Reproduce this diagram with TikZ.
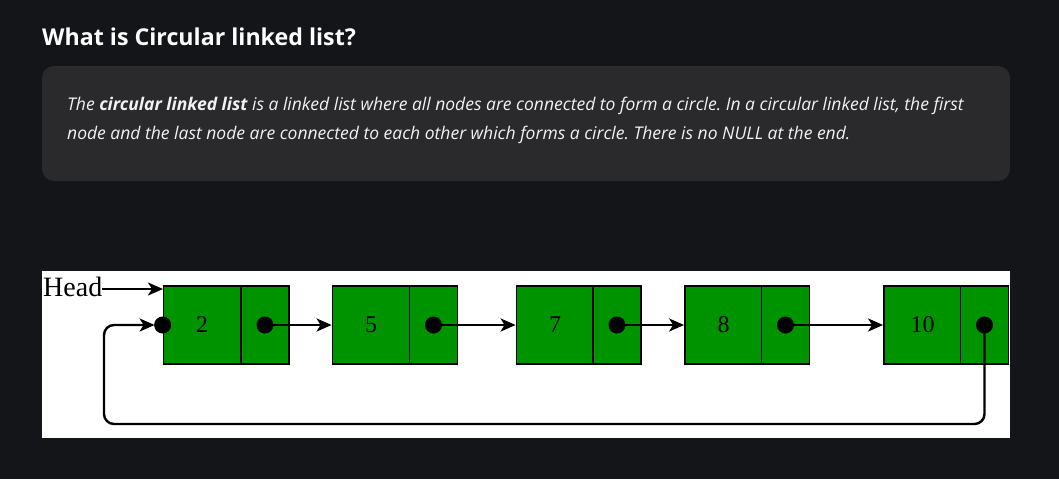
\documentclass[tikz,border=0pt]{standalone}
\usepackage{fontspec}
\setmainfont{Open Sans}
\newfontfamily\numfont{Liberation Serif}
\usetikzlibrary{arrows.meta}
\frenchspacing
\definecolor{bg}{HTML}{141519}
\definecolor{card}{HTML}{2A2A2D}
\definecolor{txt}{HTML}{F2F2F2}
\definecolor{gfg}{HTML}{009300}
\tikzset{
  datacell/.style={draw=black, line width=1.8pt, fill=gfg, minimum width=77pt, minimum height=78pt, inner sep=0pt, font=\numfont\fontsize{24}{26}\selectfont, text=black},
  ptrcell/.style={draw=black, line width=1.8pt, fill=gfg, minimum width=48pt, minimum height=78pt, inner sep=0pt},
  dotmark/.style={circle, fill=black, minimum size=17pt, inner sep=0pt},
  link/.style={line width=2.4pt, -{Stealth[length=15pt,width=13pt,inset=4pt]}},
  loopline/.style={line width=2.4pt, rounded corners=10pt, -{Stealth[length=15pt,width=13pt,inset=4pt]}},
}
\begin{document}
\begin{tikzpicture}[x=1pt,y=-1pt]
\useasboundingbox (0,0) rectangle (1059,479);
\fill[bg] (0,0) rectangle (1059,479);
% title
\node[anchor=base west, inner sep=0pt, text=white, font=\bfseries\fontsize{23.2}{26}\selectfont] (title) at (42,45) {What is Circular linked list?};
% card
\fill[card, rounded corners=12pt] (42,66) rectangle (1010,181);
\node[anchor=base west, inner sep=0pt, text=txt, font=\itshape\fontsize{17.5}{19}\selectfont] (line1) at (67,110) {The \textbf{circular linked list} is a linked list where all nodes are connected to form a circle. In a circular linked list, the first};
\node[anchor=base west, inner sep=0pt, text=txt, font=\itshape\fontsize{17.5}{19}\selectfont] (line2) at (67,139) {node and the last node are connected to each other which forms a circle. There is no NULL at the end.};
% image area
\fill[white] (42,271) rectangle (1010,438);
\node[anchor=base west, inner sep=0pt, text=black, font=\numfont\fontsize{28}{30}\selectfont] (head) at (43,296) {Head};
% list nodes
\node[datacell] (d1) at (202,325) {2};
\node[ptrcell]  (p1) at (265,325) {};
\node[datacell] (d2) at (371,325) {5};
\node[ptrcell]  (p2) at (433.5,325) {};
\node[datacell] (d3) at (555,325) {7};
\node[ptrcell]  (p3) at (617,325) {};
\node[datacell] (d4) at (723.5,325) {8};
\node[ptrcell]  (p4) at (785.5,325) {};
\node[datacell] (d5) at (922.5,325) {10};
\node[ptrcell]  (p5) at (984.5,325) {};
% coordinates for the loop
\coordinate (loopbl) at (104,424);
\coordinate (headtip) at (163,289);
% connectors
\draw[link] (head.east |- headtip) -- (headtip);
\draw[link] (p1.center) -- (d2.west);
\draw[link] (p2.center) -- (d3.west);
\draw[link] (p3.center) -- (d4.west);
\draw[link] (p4.center) -- (d5.west);
\draw[loopline] (p5.center) |- (loopbl) |- ([xshift=-8pt]d1.west);
% dots
\node[dotmark] (c1) at (p1.center) {};
\node[dotmark] (c2) at (p2.center) {};
\node[dotmark] (c3) at (p3.center) {};
\node[dotmark] (c4) at (p4.center) {};
\node[dotmark] (c5) at (p5.center) {};
\node[dotmark] (c0) at (d1.west) {};
\end{tikzpicture}
\end{document}
